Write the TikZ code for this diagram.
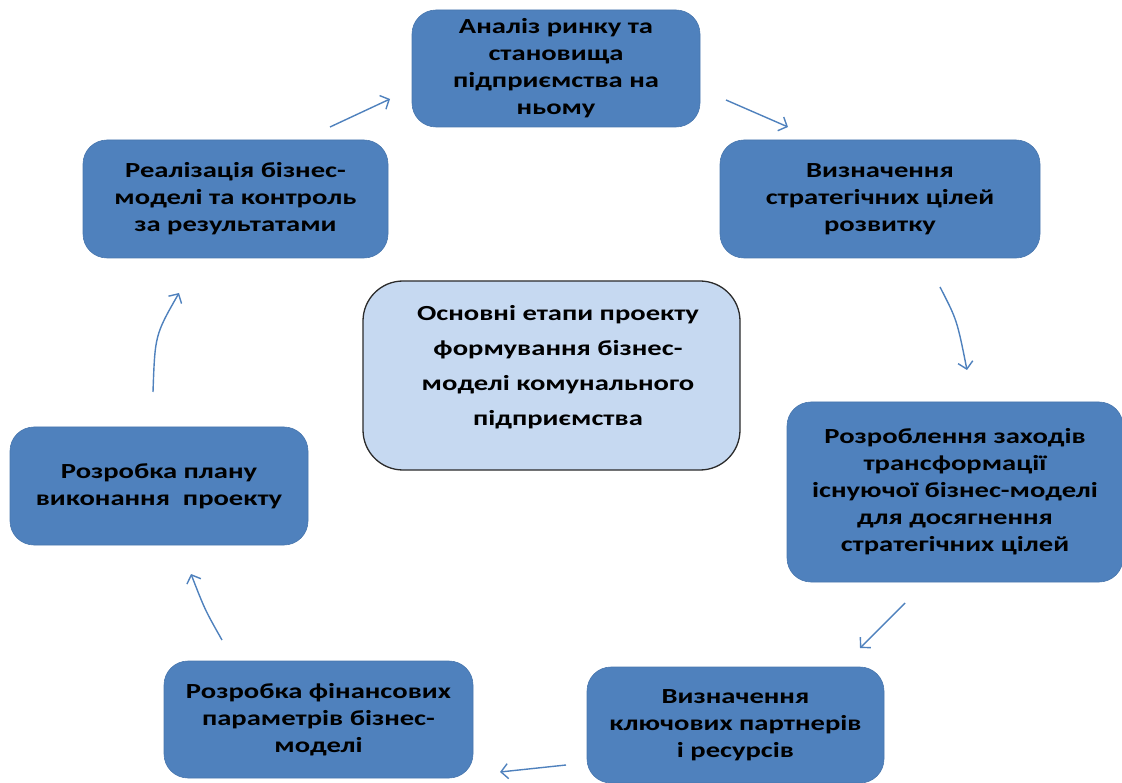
\documentclass[tikz,border=0pt]{standalone}
\usepackage{fontspec}
\setmainfont{Carlito}[FakeStretch=1.33]
\usetikzlibrary{arrows.meta}
\definecolor{boxblue}{HTML}{4F81BD}
\definecolor{coreblue}{HTML}{C6D9F1}
\definecolor{coreline}{HTML}{2B2B2B}
\begin{document}
\begin{tikzpicture}[x=1pt,y=-1pt,
  stage/.style={fill=boxblue, draw=boxblue!92!black, line width=0.6pt,
    rounded corners=24pt, align=center, text=black, inner sep=0pt,
    font=\fontsize{21.5}{27}\selectfont\bfseries},
  corebox/.style={fill=coreblue, draw=coreline, line width=1.3pt,
    rounded corners=40pt, inner sep=0pt},
  coretext/.style={align=center, text=black,
    font=\fontsize{21.5}{35}\selectfont\bfseries},
  arr/.style={draw=boxblue, line width=1.4pt,
    -{Straight Barb[length=7pt,width=15pt]}}]
\useasboundingbox (0,0) rectangle (1122,783);
\clip (0,0) rectangle (1122,783);

\node[stage, minimum width=288pt, minimum height=117pt] (s1) at (556,68.5)
  {Аналіз ринку та\\становища\\підприємства на\\ньому};
\node[stage, minimum width=320pt, minimum height=118pt] (s2) at (880,199)
  {Визначення\\стратегічних цілей\\розвитку};
\node[stage, minimum width=336pt, minimum height=180pt] (s3) at (955,492)
  {Розроблення заходів\\трансформації\\існуючої бізнес-моделі\\для досягнення\\стратегічних цілей};
\node[stage, minimum width=297pt, minimum height=116pt] (s4) at (735.5,725)
  {Визначення\\ключових партнерів\\і ресурсів};
\node[stage, minimum width=309pt, minimum height=117pt] (s5) at (318.5,719.5)
  {Розробка фінансових\\параметрів бізнес-\\моделі};
\node[stage, minimum width=298pt, minimum height=118pt] (s6) at (159,486)
  {Розробка плану\\виконання~~проекту};
\node[stage, minimum width=305pt, minimum height=118pt] (s7) at (235.5,199)
  {Реалізація бізнес-\\моделі та контроль\\за результатами};

\node[corebox, minimum width=377pt, minimum height=189pt] (core) at (551.5,375.5) {};
\node[coretext] (coretxt) at (558,367)
  {Основні етапи проекту\\формування бізнес-\\моделі комунального\\підприємства};

% arrow end points
\coordinate (a1s) at (330,127); \coordinate (a1e) at (390,99);
\coordinate (a2s) at (726,100); \coordinate (a2e) at (788,127);
\coordinate (a3s) at (940,287); \coordinate (a3e) at (967,370);
\coordinate (a4s) at (905,603); \coordinate (a4e) at (860,648);
\coordinate (a5s) at (566,765); \coordinate (a5e) at (500,772);
\coordinate (a6s) at (222,640); \coordinate (a6e) at (191,574);
\coordinate (a7s) at (153,392); \coordinate (a7e) at (179,293);

\draw[arr] (a1s) -- (a1e);
\draw[arr] (a2s) -- (a2e);
\draw[arr] (a3s) .. controls (957,320) .. (a3e);
\draw[arr] (a4s) -- (a4e);
\draw[arr] (a5s) -- (a5e);
\draw[arr] (a6s) .. controls (205,610) .. (a6e);
\draw[arr] (a7s) .. controls (155,335) .. (a7e);
\end{tikzpicture}
\end{document}
